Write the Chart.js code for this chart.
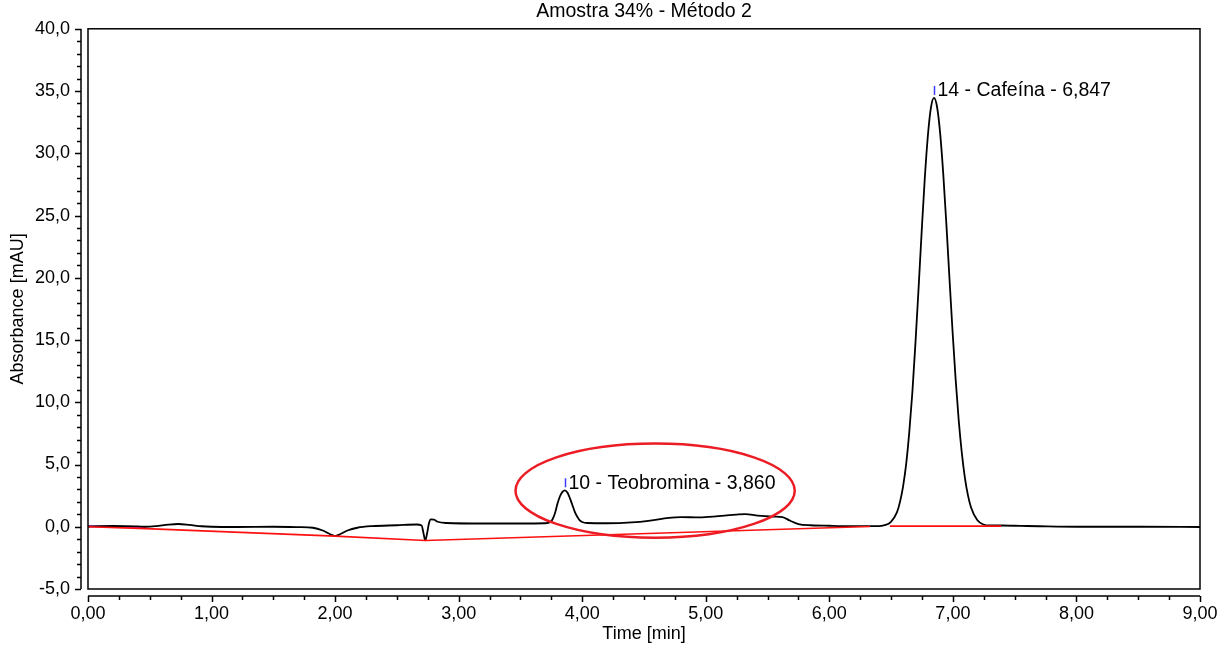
<!DOCTYPE html>
<html>
<head>
<meta charset="utf-8">
<script src="https://cdn.jsdelivr.net/npm/chart.js@4/dist/chart.umd.min.js"></script>
<style>
  html, body { margin: 0; padding: 0; background: #fff; }
  canvas { display: block; }
</style>
</head>
<body>
<canvas id="chromChart" width="1232" height="648"></canvas>
<script>
// chromatogram trace (time in min, absorbance in mAU)
const times = [
  0.00, 0.10, 0.20, 0.30, 0.40, 0.47, 0.55, 0.65, 0.73, 0.82, 0.92, 1.00, 1.20, 1.50, 1.70,
  1.82, 1.90, 1.96, 2.00, 2.04, 2.10, 2.18, 2.30, 2.50, 2.66, 2.70, 2.715, 2.73, 2.745, 2.76,
  2.775, 2.80, 2.83, 2.90, 3.20, 3.50, 3.70,
  3.74, 3.76, 3.78, 3.80, 3.82, 3.84, 3.86, 3.88, 3.90, 3.92, 3.94, 3.96, 3.98, 4.00, 4.04,
  4.20, 4.40, 4.55, 4.70, 4.80, 4.95, 5.10, 5.25, 5.32, 5.42, 5.55, 5.62, 5.68, 5.75, 5.85,
  6.00, 6.20, 6.40,
  6.447, 6.497, 6.547, 6.572, 6.597, 6.622, 6.647, 6.672, 6.697, 6.722, 6.747, 6.772, 6.797, 6.822,
  6.847, 6.872, 6.897, 6.922, 6.947, 6.972, 6.997, 7.022, 7.047, 7.072, 7.097, 7.122, 7.147,
  7.197, 7.247, 7.297,
  7.40, 7.55, 7.70, 8.00, 8.50, 9.00
];
const absorbance = [
  0.02, 0.05, 0.06, 0.05, 0.03, 0.00, 0.05, 0.17, 0.22, 0.15, 0.04, 0.00, -0.02, 0.00, -0.03,
  -0.08, -0.30, -0.60, -0.75, -0.60, -0.30, -0.08, 0.05, 0.12, 0.18, 0.10, -0.50, -1.10, -0.50, 0.30,
  0.60, 0.58, 0.40, 0.30, 0.26, 0.26, 0.28,
  0.36, 0.60, 1.10, 1.86, 2.45, 2.80, 2.93, 2.75, 2.30, 1.75, 1.20, 0.80, 0.52, 0.38, 0.30,
  0.28, 0.35, 0.50, 0.72, 0.78, 0.75, 0.85, 0.98, 1.02, 0.90, 0.82, 0.78, 0.50, 0.22, 0.12,
  0.08, 0.05, 0.05,
  0.13, 0.38, 1.15, 2.00, 3.25, 5.05, 7.60, 10.80, 14.75, 19.10, 23.65, 27.90, 31.35, 33.65,
  34.45, 33.72, 31.60, 28.35, 24.35, 20.00, 15.75, 11.88, 8.58, 5.95, 3.95, 2.52, 1.55,
  0.54, 0.18, 0.10,
  0.10, 0.07, 0.04, 0.00, 0.00, -0.02
];

// integration baselines (red) and the start segment (magenta)
const baseTimes = [0.00, 0.47, 2.00, 2.73, 6.33, 6.40, 6.49, 7.39];
const baseValues = [0.00, -0.15, -0.75, -1.10, 0.02, null, 0.05, 0.05];
const startTimes = [0.00, 0.47];
const startValues = [0.05, -0.05];

// peak labels
const peakTimes = [3.860, 6.847];
const peakHeights = [2.93, 34.45];
const peakLabels = ['10 - Teobromina - 3,860', '14 - Cafeína - 6,847'];

// highlighted region (ellipse, in data units)
const ringCenter = [4.59, 2.9];
const ringRadius = [1.13, 3.78];

const xTicks = { min: 0, max: 9, step: 1, minor: 0.25 };
const yTicks = { min: -5, max: 40, step: 5, minor: 1 };

const FONT = "'Liberation Sans', Arial, sans-serif";

const toPoints = (xs, ys) => xs.map((x, i) => ({ x: x, y: ys[i] }));

const frame = {
  id: 'frame',
  afterDraw(chart) {
    const { ctx, chartArea: a, scales: { x, y } } = chart;
    ctx.save();
    ctx.strokeStyle = '#000';
    ctx.lineWidth = 1.5;
    ctx.strokeRect(a.left, a.top, a.right - a.left, a.bottom - a.top);

    // y axis line and ticks, offset left of the box
    const yx = a.left - 7;
    ctx.beginPath();
    ctx.moveTo(yx, a.top);
    ctx.lineTo(yx, a.bottom);
    for (let v = yTicks.min; v <= yTicks.max + 1e-9; v += yTicks.minor) {
      const py = Math.round(y.getPixelForValue(v)) + 0.5;
      const major = Math.abs(v / yTicks.step - Math.round(v / yTicks.step)) < 1e-6;
      ctx.moveTo(yx, py);
      ctx.lineTo(yx - (major ? 6 : 4), py);
    }
    ctx.stroke();

    // x axis line and ticks, offset below the box
    const xy = a.bottom + 7;
    ctx.beginPath();
    ctx.moveTo(a.left, xy);
    ctx.lineTo(a.right, xy);
    for (let v = xTicks.min; v <= xTicks.max + 1e-9; v += xTicks.minor) {
      const px = Math.round(x.getPixelForValue(v)) + 0.5;
      const major = Math.abs(v / xTicks.step - Math.round(v / xTicks.step)) < 1e-6;
      ctx.moveTo(px, xy);
      ctx.lineTo(px, xy + (major ? 6 : 4));
    }
    ctx.stroke();

    // title
    ctx.fillStyle = '#000';
    ctx.font = '19.5px ' + FONT;
    ctx.textAlign = 'center';
    ctx.textBaseline = 'middle';
    ctx.fillText('Amostra 34% - Método 2', (a.left + a.right) / 2, 12);

    // peak markers and labels
    ctx.textAlign = 'left';
    peakTimes.forEach((t, i) => {
      const px = Math.round(x.getPixelForValue(t)) + 0.5;
      const py = y.getPixelForValue(peakHeights[i]);
      ctx.strokeStyle = '#3a3aff';
      ctx.lineWidth = 1.5;
      ctx.beginPath();
      ctx.moveTo(px, py - 3);
      ctx.lineTo(px, py - 12);
      ctx.stroke();
      ctx.fillStyle = '#000';
      ctx.fillText(peakLabels[i], px + 3, py - 7);
    });

    // red ellipse
    const cx = x.getPixelForValue(ringCenter[0]);
    const cy = y.getPixelForValue(ringCenter[1]);
    const rx = x.getPixelForValue(ringCenter[0] + ringRadius[0]) - cx;
    const ry = cy - y.getPixelForValue(ringCenter[1] + ringRadius[1]);
    ctx.strokeStyle = '#ec1c24';
    ctx.lineWidth = 2.5;
    ctx.beginPath();
    ctx.ellipse(cx, cy, rx, ry, 0, 0, Math.PI * 2);
    ctx.stroke();
    ctx.restore();
  }
};

new Chart(document.getElementById('chromChart').getContext('2d'), {
  type: 'line',
  data: {
    datasets: [
      {
        label: 'Baseline',
        data: toPoints(baseTimes, baseValues),
        borderColor: '#ff1010',
        borderWidth: 1.6,
        pointRadius: 0,
        tension: 0,
        spanGaps: false
      },
      {
        label: 'Signal',
        data: toPoints(times, absorbance),
        borderColor: '#000',
        borderWidth: 1.8,
        pointRadius: 0,
        cubicInterpolationMode: 'monotone'
      },
      {
        label: 'Start',
        data: toPoints(startTimes, startValues),
        borderColor: '#d82ad8',
        borderWidth: 2,
        pointRadius: 0,
        tension: 0
      }
    ]
  },
  options: {
    responsive: false,
    animation: false,
    devicePixelRatio: 1,
    layout: { padding: { top: 24, right: 32, left: 0, bottom: 0 } },
    plugins: {
      legend: { display: false },
      tooltip: { enabled: false },
      title: { display: false }
    },
    scales: {
      x: {
        type: 'linear',
        min: xTicks.min,
        max: xTicks.max,
        grid: { display: false, drawTicks: false },
        border: { display: false },
        ticks: {
          stepSize: xTicks.step,
          maxRotation: 0,
          padding: 14,
          color: '#000',
          font: { size: 18, family: FONT },
          callback: v => v.toFixed(2).replace('.', ',')
        },
        title: {
          display: true,
          text: 'Time [min]',
          color: '#000',
          font: { size: 18, family: FONT },
          padding: { top: 0, bottom: 3 }
        },
        afterFit: s => { s.height = 59; }
      },
      y: {
        min: yTicks.min,
        max: yTicks.max,
        grid: { display: false, drawTicks: false },
        border: { display: false },
        ticks: {
          stepSize: yTicks.step,
          padding: 18,
          color: '#000',
          font: { size: 18, family: FONT },
          callback: v => v.toFixed(1).replace('.', ',')
        },
        title: {
          display: true,
          text: 'Absorbance [mAU]',
          color: '#000',
          font: { size: 18, family: FONT },
          padding: { top: 7, bottom: 0 }
        },
        afterFit: s => { s.width = 88; }
      }
    }
  },
  plugins: [frame]
});
</script>
</body>
</html>
